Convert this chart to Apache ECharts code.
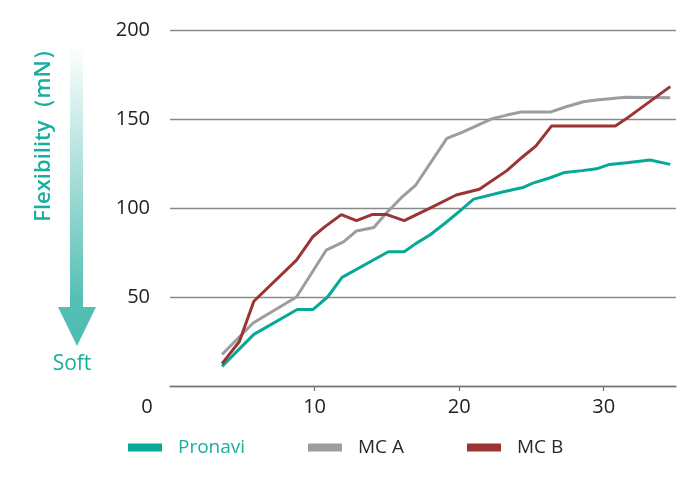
<!DOCTYPE html>
<html>
<head>
<meta charset="utf-8">
<script src="https://cdn.jsdelivr.net/npm/echarts@6/dist/echarts.min.js"></script>
<style>html,body{margin:0;padding:0;background:#fff;}#c{width:690px;height:483px;}</style>
</head>
<body>
<div id="c"></div>
<script>
const seriesNames = ['Pronavi', 'MC A', 'MC B'];
const pronavi = [[3.6,11],[5.8,29],[8.8,43],[9.9,43],[10.9,50],[11.9,61],[15.1,75.4],[16.2,75.4],[17,80],[18,85],[19,91.3],[20,98],[21,105],[23,109],[24.4,111.5],[25.1,114],[26.3,117],[27.3,120],[28.5,121],[29.5,122],[30.4,124.5],[31.6,125.4],[33.2,127],[34.6,124.5]];
const mcA = [[3.6,17.7],[5.75,35.4],[8.75,50],[10.8,76.3],[12,81],[12.9,87.1],[14.1,89],[15,97.5],[16,105.8],[17,112.9],[19.15,139.1],[20.2,142.5],[21.3,146.6],[22.3,150.2],[23.3,152.2],[24.3,153.9],[26.3,153.9],[27.4,156.9],[28.6,159.7],[29.5,160.7],[31.5,162.2],[34.6,162]];
const mcB = [[3.6,12.6],[4.8,25],[5.8,47.6],[8.75,70.7],[9.9,84],[10.7,89.4],[11.85,96.3],[12.9,92.9],[13.97,96.3],[15,96.3],[16.2,92.9],[17.95,99.8],[19.8,107.3],[21.4,110.5],[23.3,121],[24.4,128.8],[25.3,134.8],[26.4,146.1],[30.8,146.1],[31.5,149.8],[34.6,168.2]];
const xTickValues = [10, 20, 30];
const yTickValues = [50, 100, 150, 200];
const colors = ['#07a898', '#9d9d9f', '#9b3434'];

const chart = echarts.init(document.getElementById('c'));
const font = '"Open Sans", "Noto Sans", sans-serif';
const legendBase = {
  orient: 'horizontal', icon: 'rect', itemWidth: 34, itemHeight: 8, top: 438, padding: 0,
  textStyle: { fontSize: 19, fontFamily: font, color: '#2a2a2a', padding: [0, 0, 0, 11] }, itemGap: 0, selectedMode: false
};
chart.setOption({
  animation: false,
  grid: { left: 170, right: 14, top: 30, bottom: 97 },
  xAxis: {
    type: 'value', min: 0, max: 35, interval: 10,
    axisLine: { show: true, lineStyle: { color: '#777', width: 1.3 } },
    axisTick: { show: true, customValues: xTickValues, length: 5, lineStyle: { color: '#777', width: 1.3 } },
    axisLabel: { customValues: xTickValues, fontSize: 20, color: '#222', fontFamily: font, margin: 11 },
    splitLine: { show: false }
  },
  yAxis: {
    type: 'value', min: 0, max: 200, interval: 50,
    axisLine: { show: false }, axisTick: { show: false },
    axisLabel: { customValues: yTickValues, fontSize: 20, color: '#222', fontFamily: font, margin: 20 },
    splitLine: { lineStyle: { color: '#8a8a8a', width: 1.3 } }
  },
  legend: [
    Object.assign({}, legendBase, { left: 128, data: [seriesNames[0]], textStyle: Object.assign({}, legendBase.textStyle, { color: '#1aae9f' }) }),
    Object.assign({}, legendBase, { left: 308, data: [seriesNames[1]] }),
    Object.assign({}, legendBase, { left: 467, data: [seriesNames[2]] })
  ],
  series: [
    { name: seriesNames[0], type: 'line', data: pronavi, showSymbol: false, symbol: 'none', lineStyle: { width: 3, color: colors[0] }, itemStyle: { color: colors[0] }, z: 3 },
    { name: seriesNames[1], type: 'line', data: mcA, showSymbol: false, symbol: 'none', lineStyle: { width: 3, color: colors[1] }, itemStyle: { color: colors[1] }, z: 2 },
    { name: seriesNames[2], type: 'line', data: mcB, showSymbol: false, symbol: 'none', lineStyle: { width: 3, color: colors[2] }, itemStyle: { color: colors[2] }, z: 4 }
  ],
  graphic: [
    { type: 'text', x: 147, y: 407, style: { text: '0', font: '20px ' + font, fill: '#222', align: 'center', verticalAlign: 'middle' } },
    { type: 'polygon', shape: { points: [[70,45],[83,45],[83,307],[96,307],[77,346],[58,307],[70,307]] },
      style: { fill: new echarts.graphic.LinearGradient(0, 0, 0, 1, [
        { offset: 0, color: 'rgba(255,255,255,1)' },
        { offset: 0.45, color: '#a6dcd6' },
        { offset: 0.85, color: '#55bfb4' },
        { offset: 1, color: '#4dbcb0' }
      ]) } },
    { type: 'text', x: 44, y: 130, rotation: Math.PI / 2,
      style: { text: 'Flexibility（mN）', font: '600 22px ' + font, fill: '#1aae9f', align: 'center', verticalAlign: 'middle' } },
    { type: 'text', x: 72, y: 364, style: { text: 'Soft', font: '21px ' + font, fill: '#1aae9f', align: 'center', verticalAlign: 'middle' } }
  ]
});
</script>
</body>
</html>
